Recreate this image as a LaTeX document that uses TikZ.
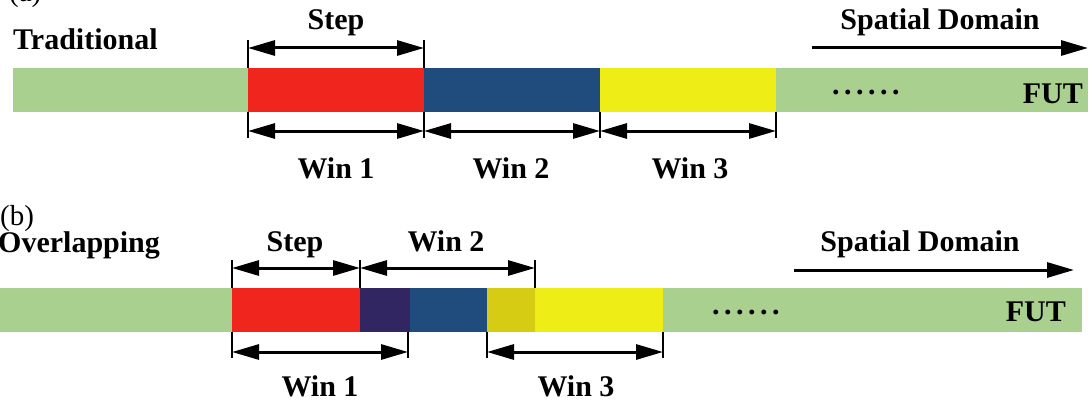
\documentclass[tikz,border=0pt]{standalone}
\usepackage{fontspec}
\setmainfont{Liberation Serif}
\usetikzlibrary{arrows.meta}
\definecolor{fgreen}{RGB}{169,208,142}
\definecolor{fred}{RGB}{240,38,30}
\definecolor{fblue}{RGB}{31,76,124}
\definecolor{fpurple}{RGB}{50,38,98}
\definecolor{fyellow}{RGB}{238,238,22}
\definecolor{folive}{RGB}{214,204,20}
\newcommand{\sixdots}{.\kern4.5pt.\kern4.5pt.\kern4.5pt.\kern4.5pt.\kern4.5pt.}
\begin{document}
\begin{tikzpicture}[x=1pt,y=-1pt,
  seg/.style={inner sep=0pt, outer sep=0pt, minimum height=44pt, anchor=north west, draw=none},
  lbl/.style={font=\fontsize{30}{36}\selectfont\bfseries, inner sep=0pt, anchor=base},
  plain/.style={font=\fontsize{29}{34}\selectfont, inner sep=0pt, anchor=base west},
  dim/.style={line width=3pt, {Triangle[length=27pt,width=15pt]}-{Triangle[length=27pt,width=15pt]}},
  tickline/.style={line width=2pt},
  dirarrow/.style={line width=3pt, -{Triangle[length=27pt,width=15pt]}}]
\useasboundingbox (0,0) rectangle (1091,401);
% ---------------- (a) ----------------
\node[plain] (la) at (9,2) {(a)};
\node[lbl, anchor=base west] (trad) at (13,50) {Traditional};
\node[seg, fill=fgreen, minimum width=1075pt] (ga) at (13,68) {};
\node[seg, fill=fred, minimum width=176pt] (ra) at (248,68) {};
\node[seg, fill=fblue, minimum width=176pt] (ba) at (424,68) {};
\node[seg, fill=fyellow, minimum width=176pt] (ya) at (600,68) {};
\node[lbl, anchor=base west] (dotsa) at (832,95) {\sixdots};
\node[lbl, anchor=base east] (futa) at (1083,103) {FUT};
% ticks (a)
\coordinate (a1t) at (248,40);
\coordinate (a2t) at (424,40);
\coordinate (a1b) at (248,138);
\coordinate (a2b) at (424,138);
\coordinate (a3b) at (600,138);
\coordinate (a4b) at (776,138);
\draw[tickline] (a1t) -- (ra.north west);
\draw[tickline] (a2t) -- (ra.north east);
\draw[tickline] (ra.south west) -- (a1b);
\draw[tickline] (ra.south east) -- (a2b);
\draw[tickline] (ya.south west) -- (a3b);
\draw[tickline] (ya.south east) -- (a4b);
% dimension arrows (a)
\coordinate (sa1) at (248,48);
\coordinate (sa2) at (424,48);
\draw[dim] (sa1) -- (sa2);
\coordinate (wa1) at (248,131);
\coordinate (wa2) at (424,131);
\coordinate (wa3) at (600,131);
\coordinate (wa4) at (776,131);
\draw[dim] (wa1) -- (wa2);
\draw[dim] (wa2) -- (wa3);
\draw[dim] (wa3) -- (wa4);
\node[lbl] (stepa) at (336,30) {Step};
\node[lbl] (win1a) at (336,178) {Win 1};
\node[lbl] (win2a) at (511,178) {Win 2};
\node[lbl] (win3a) at (690,178) {Win 3};
\node[lbl] (spa) at (940,30) {Spatial Domain};
\coordinate (da1) at (812,48);
\coordinate (da2) at (1088,48);
\draw[dirarrow] (da1) -- (da2);
% ---------------- (b) ----------------
\node[plain] (lb) at (0,225) {(b)};
\node[lbl, anchor=base west] (over) at (-2,252) {Overlapping};
\node[seg, fill=fgreen, minimum width=1082pt] (gb) at (0,288) {};
\node[seg, fill=fred, minimum width=128pt] (rb) at (232,288) {};
\node[seg, fill=fpurple, minimum width=50pt] (pb) at (360,288) {};
\node[seg, fill=fblue, minimum width=77pt] (bb) at (410,288) {};
\node[seg, fill=folive, minimum width=48pt] (ob) at (487,288) {};
\node[seg, fill=fyellow, minimum width=128pt] (yb) at (535,288) {};
\node[lbl, anchor=base west] (dotsb) at (712,314) {\sixdots};
\node[lbl, anchor=base east] (futb) at (1066,321) {FUT};
% ticks (b)
\coordinate (b1t) at (232,260);
\coordinate (b2t) at (360,260);
\coordinate (b3t) at (535,260);
\coordinate (b1b) at (232,358);
\coordinate (b2b) at (408,358);
\coordinate (b3b) at (487,358);
\coordinate (b4b) at (663,358);
\coordinate (b2m) at (408,332);
\draw[tickline] (b1t) -- (rb.north west);
\draw[tickline] (b2t) -- (rb.north east);
\draw[tickline] (b3t) -- (yb.north west);
\draw[tickline] (rb.south west) -- (b1b);
\draw[tickline] (b2m) -- (b2b);
\draw[tickline] (bb.south east) -- (b3b);
\draw[tickline] (yb.south east) -- (b4b);
% dimension arrows (b)
\coordinate (sb1) at (232,268);
\coordinate (sb2) at (360,268);
\coordinate (sb3) at (535,268);
\draw[dim] (sb1) -- (sb2);
\draw[dim] (sb2) -- (sb3);
\coordinate (wb1) at (232,352);
\coordinate (wb2) at (408,352);
\coordinate (wb3) at (487,352);
\coordinate (wb4) at (663,352);
\draw[dim] (wb1) -- (wb2);
\draw[dim] (wb3) -- (wb4);
\node[lbl] (stepb) at (295,251) {Step};
\node[lbl] (win2b) at (446,251) {Win 2};
\node[lbl] (win1b) at (320,396) {Win 1};
\node[lbl] (win3b) at (576,396) {Win 3};
\node[lbl] (spb) at (920,251) {Spatial Domain};
\coordinate (db1) at (794,270);
\coordinate (db2) at (1074,270);
\draw[dirarrow] (db1) -- (db2);
\end{tikzpicture}
\end{document}
